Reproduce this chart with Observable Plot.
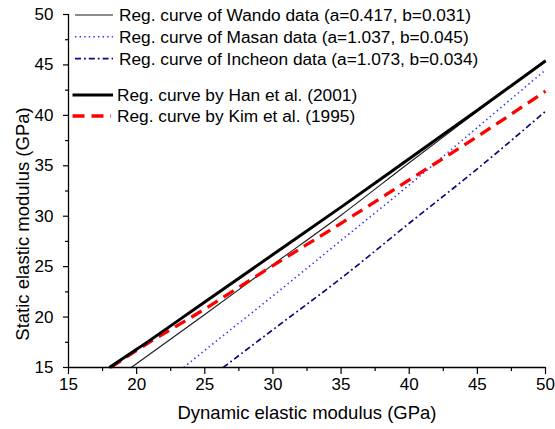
<!DOCTYPE html>
<html>
<head>
<meta charset="utf-8">
<script src="https://cdn.jsdelivr.net/npm/d3@7"></script>
<script src="https://cdn.jsdelivr.net/npm/@observablehq/plot@0.6"></script>
<style>
  html, body { margin: 0; padding: 0; background: #fff; }
  #chart { width: 555px; height: 429px; }
</style>
</head>
<body>
<div id="chart"></div>
<script>
// Dynamic elastic modulus (GPa) -> static elastic modulus (GPa)
const wandoEd   = [19.6, 25, 30, 35, 40, 45, 50];
const wandoEs   = [15, 20.25, 25.2, 30.1, 35.3, 40.4, 45.5];
const masanEd   = [23.45, 25, 30, 35, 40, 45, 50];
const masanEs   = [15, 16.7, 22.1, 27.6, 33.1, 38.8, 44.5];
const incheonEd = [26.35, 30, 35, 40, 45, 50];
const incheonEs = [15, 18.75, 23.85, 29.3, 34.7, 40.4];
const hanEd     = [18.0, 20, 25, 30, 35, 40, 45, 50];
const hanEs     = [15, 16.8, 21.5, 26.2, 30.9, 35.7, 40.5, 45.4];
const kimEd     = [18.1, 20, 25, 30, 35, 40, 45, 50];
const kimEs     = [15, 16.7, 20.8, 25.1, 29.3, 33.6, 37.9, 42.4];

const xTicks = [15, 20, 25, 30, 35, 40, 45, 50];
const yTicks = [15, 20, 25, 30, 35, 40, 45, 50];
const xMinor = [17.5, 22.5, 27.5, 32.5, 37.5, 42.5, 47.5];
const yMinor = [17.5, 22.5, 27.5, 32.5, 37.5, 42.5, 47.5];

const legendLabels = [
  "Reg. curve of Wando data (a=0.417, b=0.031)",
  "Reg. curve of Masan data (a=1.037, b=0.045)",
  "Reg. curve of Incheon data (a=1.073, b=0.034)",
  "Reg. curve by Han et al. (2001)",
  "Reg. curve by Kim et al. (1995)"
];
const xTitle = "Dynamic elastic modulus (GPa)";
const yTitle = "Static elastic modulus (GPa)";

const styles = [
  {stroke: "#1a1a1a", strokeWidth: 1.1, dash: null},
  {stroke: "#3030ff", strokeWidth: 1.6, dash: "1.4,3.2"},
  {stroke: "#0a0a80", strokeWidth: 1.7, dash: "6,3,1.8,3"},
  {stroke: "#000000", strokeWidth: 3, dash: null},
  {stroke: "#ff0000", strokeWidth: 3.3, dash: "12,7"}
];

const font = "Liberation Sans, Arial, Helvetica, sans-serif";

function lineMark(xs, ys, s) {
  return Plot.line(ys, {x: xs, y: ys, curve: "monotone-x",
    stroke: s.stroke, strokeWidth: s.strokeWidth,
    strokeDasharray: s.dash || undefined, strokeLinecap: "butt"});
}

const chart = Plot.plot({
  width: 555, height: 429,
  marginLeft: 68, marginRight: 10, marginTop: 14, marginBottom: 62,
  style: {fontFamily: font, fontSize: "17px", background: "#fff", color: "#000"},
  x: {domain: [15, 50]},
  y: {domain: [15, 50]},
  marks: [
    lineMark(incheonEd, incheonEs, styles[2]),
    lineMark(masanEd, masanEs, styles[1]),
    lineMark(wandoEd, wandoEs, styles[0]),
    lineMark(kimEd, kimEs, styles[4]),
    lineMark(hanEd, hanEs, styles[3]),
    Plot.axisX(xTicks, {tickSize: 7, tickPadding: 3, tickFormat: d => String(d), label: null, fontSize: 17, strokeWidth: 1.2}),
    Plot.axisX(xMinor, {tickSize: 4, text: null, label: null, strokeWidth: 1.2}),
    Plot.axisY(yTicks, {tickSize: 5, tickPadding: 10, tickFormat: d => String(d), label: null, fontSize: 17, strokeWidth: 1.2}),
    Plot.axisY(yMinor, {tickSize: 3, text: null, label: null, strokeWidth: 1.2}),
    Plot.ruleY([15], {strokeWidth: 1.3}),
    Plot.ruleX([15], {strokeWidth: 1.3}),
    Plot.text([xTitle], {frameAnchor: "bottom", dy: 51, fontSize: 18.5, text: d => d})
  ]
});

const svg = d3.select(chart);

// Y axis title
svg.append("text")
  .attr("transform", "translate(23,224) rotate(-90)")
  .attr("text-anchor", "middle").attr("dy", "0.35em")
  .attr("font-family", font).attr("font-size", 18.5).attr("fill", "#000")
  .text(yTitle);

// Legend inside the plot area, top-left
const rowY = [15, 36.7, 58.7, 95, 116];
const lineX0 = [75, 75, 75, 72.5, 72.5];
const lineX1 = [113, 113, 113, 113, 111];
const textX = [119, 119, 119, 117, 117];
const lg = svg.append("g").attr("font-family", font).attr("font-size", 17.3)
  .attr("text-anchor", "start");
legendLabels.forEach((lab, i) => {
  const s = styles[i];
  lg.append("line").attr("x1", lineX0[i]).attr("x2", lineX1[i])
    .attr("y1", rowY[i]).attr("y2", rowY[i])
    .attr("stroke", s.stroke).attr("stroke-width", s.strokeWidth)
    .attr("stroke-dasharray", s.dash);
  lg.append("text").attr("x", textX[i]).attr("y", rowY[i]).attr("dy", "0.35em")
    .attr("text-anchor", "start").attr("fill", "#000").text(lab);
});

document.getElementById("chart").appendChild(chart);
</script>
</body>
</html>
